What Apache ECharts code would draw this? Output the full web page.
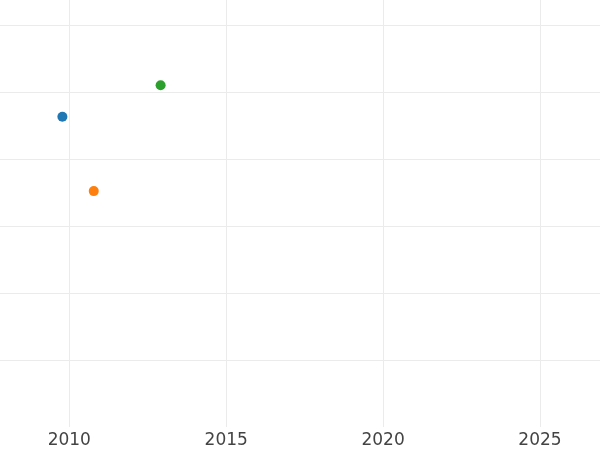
<!DOCTYPE html>
<html>
<head>
<meta charset="utf-8">
<script src="https://cdn.jsdelivr.net/npm/echarts@6/dist/echarts.min.js"></script>
<style>html,body{margin:0;padding:0;background:#fff}#c{width:600px;height:450px}</style>
</head>
<body>
<div id="c"></div>
<script>
const seriesNames = ['A', 'B', 'C'];
const seriesColors = ['#1f77b4', '#ff7f0e', '#2ca02c'];
const xValues = [2009.78, 2010.78, 2012.91];
const yValues = [4.63, 3.52, 5.10];

const chart = echarts.init(document.getElementById('c'), null, {renderer: 'canvas'});
const series = seriesNames.map((n, i) => ({
  name: n,
  type: 'scatter',
  symbolSize: 10,
  itemStyle: {color: seriesColors[i], opacity: 1},
  data: [[xValues[i], yValues[i]]]
}));
chart.setOption({
  animation: false,
  backgroundColor: '#ffffff',
  grid: {left: -87.6, right: -96.9, top: -42.1, bottom: 23, containLabel: false, outerBoundsMode: 'none'},
  xAxis: {
    type: 'value', min: 2005, max: 2030, interval: 5,
    axisLine: {show: false}, axisTick: {show: false},
    axisLabel: {color: '#444', fontSize: 17, fontFamily: 'DejaVu Sans', margin: 5, formatter: v => String(v)},
    splitLine: {show: true, lineStyle: {color: '#ebebeb', width: 1}}
  },
  yAxis: {
    type: 'value', min: 0, max: 7, interval: 1,
    axisLine: {show: false}, axisTick: {show: false},
    axisLabel: {show: false},
    splitLine: {show: true, showMinLine: false, lineStyle: {color: '#ebebeb', width: 1}}
  },
  series: series
});
</script>
</body>
</html>
